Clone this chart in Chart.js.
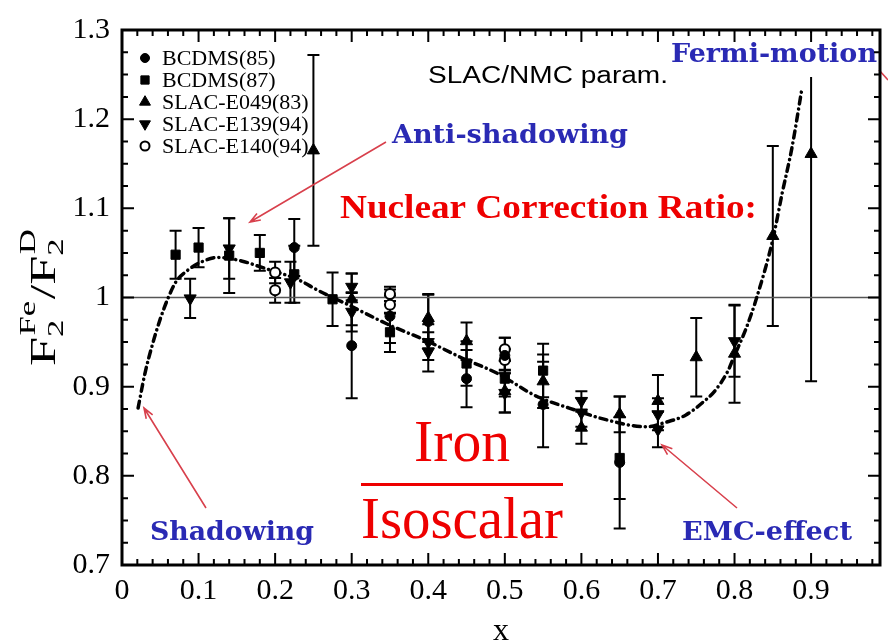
<!DOCTYPE html>
<html>
<head>
<meta charset="utf-8">
<script src="https://cdn.jsdelivr.net/npm/chart.js@4.4.1/dist/chart.umd.min.js"></script>
<style>
  html, body { margin: 0; padding: 0; background: #fff; }
</style>
</head>
<body>
<canvas id="c" width="888" height="641"></canvas>
<script>
// axis ticks
const xTicks = [0, 0.1, 0.2, 0.3, 0.4, 0.5, 0.6, 0.7, 0.8, 0.9];
const xTickLabels = ['0', '0.1', '0.2', '0.3', '0.4', '0.5', '0.6', '0.7', '0.8', '0.9'];
const yTicks = [0.7, 0.8, 0.9, 1.0, 1.1, 1.2, 1.3];
const yTickLabels = ['0.7', '0.8', '0.9', '1', '1.1', '1.2', '1.3'];

// BCDMS(85)
const b85X = [0.225, 0.30, 0.35, 0.40, 0.45, 0.50, 0.55, 0.65];
const b85Y = [1.056, 0.946, 0.979, 0.973, 0.909, 0.935, 0.880, 0.815];
const b85Err = [0.032, 0.059, 0.030, 0.030, 0.032, 0.020, 0.048, 0.074];

// BCDMS(87)
const b87X = [0.07, 0.10, 0.14, 0.18, 0.225, 0.275, 0.35, 0.45, 0.50, 0.55, 0.65];
const b87Y = [1.048, 1.056, 1.047, 1.050, 1.026, 0.998, 0.961, 0.926, 0.909, 0.918, 0.820];
const b87Err = [0.027, 0.022, 0.042, 0.020, 0.032, 0.030, 0.022, 0.025, 0.020, 0.030, 0.046];

// SLAC-E049(83)
const e049X = [0.25, 0.30, 0.40, 0.45, 0.50, 0.55, 0.60, 0.65, 0.70, 0.75, 0.80, 0.85, 0.90];
const e049Y = [1.165, 0.998, 0.977, 0.951, 0.895, 0.906, 0.854, 0.869, 0.884, 0.933, 0.937, 1.069, 1.161];
const e049Err = [0.107, 0.029, 0.027, 0.021, 0.024, 0.030, 0.018, 0.020, 0.029, 0.044, 0.055, 0.101, 0.255];

// SLAC-E139(94)
const e139X = [0.089, 0.14, 0.22, 0.30, 0.30, 0.40, 0.40, 0.50, 0.60, 0.60, 0.70, 0.70, 0.80];
const e139Y = [0.999, 1.055, 1.017, 1.012, 0.984, 0.950, 0.939, 0.893, 0.884, 0.871, 0.869, 0.852, 0.951];
const e139Err = [0.022, 0.034, 0.023, 0.015, 0.022, 0.020, 0.022, 0.022, 0.011, 0.016, 0.018, 0.020, 0.040];

// SLAC-E140(94)
const e140X = [0.20, 0.20, 0.35, 0.35, 0.50, 0.50];
const e140Y = [1.028, 1.008, 1.004, 0.992, 0.942, 0.930];
const e140Err = [0.012, 0.014, 0.008, 0.010, 0.013, 0.012];

// SLAC/NMC parametrisation curve
const paramX = [0.021, 0.03, 0.04, 0.05, 0.06, 0.07, 0.085, 0.104, 0.126, 0.156, 0.182, 0.23, 0.256, 0.295,
  0.347, 0.399, 0.442, 0.49, 0.542, 0.584, 0.632, 0.684, 0.71, 0.736, 0.758, 0.775, 0.791, 0.80, 0.815, 0.829,
  0.85, 0.862, 0.875, 0.888];
const paramY = [0.876, 0.915, 0.948, 0.976, 0.999, 1.017, 1.030, 1.040, 1.045, 1.041, 1.034, 1.02, 1.008, 0.992,
  0.970, 0.951, 0.933, 0.915, 0.889, 0.876, 0.863, 0.855, 0.86, 0.868, 0.882, 0.896, 0.917, 0.935, 0.965, 1.0,
  1.065, 1.116, 1.168, 1.234];

// unity reference line
const refX = [0, 0.99];
const refY = [1, 1];

const BLUE = '#2a2ab4';
const RED = '#ee0000';
const ARROW = '#d8404c';

function pts(xs, ys) {
  return xs.map((x, i) => ({ x: x, y: ys[i] }));
}

function markerSet(label, xs, ys, err, style, extra) {
  return Object.assign({
    label: label,
    data: pts(xs, ys),
    err: err,
    pointStyle: style,
    pointRadius: 5,
    backgroundColor: '#000',
    borderColor: '#000',
    borderWidth: 1,
    order: 0
  }, extra || {});
}

const datasets = [
  markerSet('BCDMS(85)', b85X, b85Y, b85Err, 'circle'),
  markerSet('BCDMS(87)', b87X, b87Y, b87Err, 'rect', { pointRadius: 6.5 }),
  markerSet('SLAC-E049(83)', e049X, e049Y, e049Err, 'triangle', { pointRadius: 7 }),
  markerSet('SLAC-E139(94)', e139X, e139Y, e139Err, 'triangle', { pointRadius: 7, pointRotation: 180 }),
  markerSet('SLAC-E140(94)', e140X, e140Y, e140Err, 'circle', { backgroundColor: '#fff', borderWidth: 2 }),
  {
    type: 'line', label: 'SLAC/NMC param.', data: pts(paramX, paramY),
    borderColor: '#000', borderWidth: 3.5, borderDash: [7, 5, 0.1, 5], borderCapStyle: 'round',
    pointRadius: 0, cubicInterpolationMode: 'monotone', fill: false, order: 5
  },
  {
    type: 'line', label: 'ref', data: pts(refX, refY),
    borderColor: '#555', borderWidth: 1.5, pointRadius: 0, fill: false, order: 6
  }
];

function fitText(ctx, str, left, cy, width, font, color) {
  ctx.save();
  ctx.font = font;
  ctx.fillStyle = color;
  ctx.textBaseline = 'middle';
  ctx.textAlign = 'left';
  const w = ctx.measureText(str).width;
  ctx.translate(left, cy);
  ctx.scale(width / w, 1);
  ctx.fillText(str, 0, 0);
  ctx.restore();
}

function arrow(ctx, x0, y0, x1, y1) {
  const ang = Math.atan2(y1 - y0, x1 - x0);
  ctx.save();
  ctx.strokeStyle = ARROW;
  ctx.lineWidth = 1.6;
  ctx.beginPath();
  ctx.moveTo(x0, y0);
  ctx.lineTo(x1, y1);
  ctx.moveTo(x1 - 11 * Math.cos(ang - 0.35), y1 - 11 * Math.sin(ang - 0.35));
  ctx.lineTo(x1, y1);
  ctx.lineTo(x1 - 11 * Math.cos(ang + 0.35), y1 - 11 * Math.sin(ang + 0.35));
  ctx.stroke();
  ctx.restore();
}

function drawYTitle(ctx) {
  const big = '36px Liberation Serif';
  const small = '24px Liberation Serif';
  ctx.save();
  ctx.fillStyle = '#000';
  ctx.textBaseline = 'alphabetic';
  ctx.translate(55, 366);
  ctx.rotate(-Math.PI / 2);
  ctx.scale(1.45, 1);
  let x = 0;
  const seq = [['F', '2', 'Fe'], ['/F', '2', 'D']];
  seq.forEach(s => {
    ctx.font = big;
    ctx.fillText(s[0], x, 0);
    x += ctx.measureText(s[0]).width;
    ctx.font = small;
    ctx.fillText(s[1], x, 8);
    ctx.fillText(s[2], x + 1, -20);
    x += Math.max(ctx.measureText(s[1]).width, ctx.measureText(s[2]).width + 1) + 1;
  });
  ctx.restore();
}

const decorations = {
  id: 'decorations',
  beforeDatasetsDraw(chart) {
    const { ctx, chartArea: a, scales: { x, y } } = chart;
    ctx.save();
    ctx.beginPath();
    ctx.rect(a.left, a.top, a.right - a.left, a.bottom - a.top);
    ctx.clip();
    ctx.strokeStyle = '#000';
    ctx.lineWidth = 2;
    chart.data.datasets.forEach(ds => {
      if (!ds.err) return;
      ds.data.forEach((p, i) => {
        const px = x.getPixelForValue(p.x);
        const hi = y.getPixelForValue(p.y + ds.err[i]);
        const lo = y.getPixelForValue(p.y - ds.err[i]);
        ctx.beginPath();
        ctx.moveTo(px, hi); ctx.lineTo(px, lo);
        ctx.moveTo(px - 6, hi); ctx.lineTo(px + 6, hi);
        ctx.moveTo(px - 6, lo); ctx.lineTo(px + 6, lo);
        ctx.stroke();
      });
    });
    ctx.restore();
  },
  afterDraw(chart) {
    const { ctx, chartArea: a, scales: { x, y } } = chart;

    // white box behind the Fermi-motion label
    ctx.fillStyle = '#fff';
    ctx.fillRect(667, 33, 214, 44);

    // labels
    fitText(ctx, 'SLAC/NMC param.', 428, 77, 240, '23px Liberation Sans', '#000');
    fitText(ctx, 'Anti-shadowing', 392, 136, 236, 'bold 26px DejaVu Serif', BLUE);
    fitText(ctx, 'Fermi-motion', 671, 55, 206, 'bold 26px DejaVu Serif', BLUE);
    fitText(ctx, 'Shadowing', 150, 533, 164, 'bold 26px DejaVu Serif', BLUE);
    fitText(ctx, 'EMC-effect', 682, 533, 170, 'bold 26px DejaVu Serif', BLUE);
    fitText(ctx, 'Nuclear Correction Ratio:', 340, 209, 417, 'bold 34px Liberation Serif', RED);
    fitText(ctx, 'Iron', 414, 445, 96, '60px Liberation Serif', RED);
    fitText(ctx, 'Isoscalar', 361, 522, 202, '60px Liberation Serif', RED);
    ctx.fillStyle = RED;
    ctx.fillRect(361, 483, 202, 3);

    // arrows
    arrow(ctx, 386, 142, 250, 222);
    arrow(ctx, 206, 508, 144, 408);
    arrow(ctx, 737, 508, 662, 445);
    ctx.save();
    ctx.strokeStyle = ARROW;
    ctx.lineWidth = 1.6;
    ctx.beginPath();
    ctx.moveTo(879, 70); ctx.lineTo(888, 80);
    ctx.stroke();
    ctx.restore();

    // legend
    const rows = [58, 80, 102, 124, 146];
    chart.data.datasets.slice(0, 5).forEach((ds, i) => {
      ctx.save();
      ctx.fillStyle = ds.backgroundColor;
      ctx.strokeStyle = ds.borderColor;
      ctx.lineWidth = ds.borderWidth;
      Chart.helpers.drawPoint(ctx, {
        pointStyle: ds.pointStyle, rotation: ds.pointRotation || 0,
        radius: ds.pointRadius * 0.9, borderWidth: ds.borderWidth
      }, 145, rows[i]);
      ctx.restore();
      ctx.fillStyle = '#000';
      ctx.font = '22px Liberation Serif';
      ctx.textBaseline = 'middle';
      ctx.textAlign = 'left';
      ctx.fillText(ds.label, 162, rows[i] + 1);
    });

    // frame
    ctx.save();
    ctx.strokeStyle = '#000';
    ctx.lineWidth = 3;
    ctx.strokeRect(a.left, a.top, a.right - a.left, a.bottom - a.top);

    // inward ticks
    ctx.lineWidth = 2;
    ctx.beginPath();
    for (let k = 0; k * 0.02 <= x.max + 1e-9; k++) {
      const px = x.getPixelForValue(k * 0.02);
      const len = k % 5 === 0 ? 12 : 6;
      ctx.moveTo(px, a.bottom); ctx.lineTo(px, a.bottom - len);
      ctx.moveTo(px, a.top); ctx.lineTo(px, a.top + len);
    }
    for (let k = 0; k <= 24; k++) {
      const py = y.getPixelForValue(0.7 + k * 0.025);
      const len = k % 4 === 0 ? 12 : 6;
      ctx.moveTo(a.left, py); ctx.lineTo(a.left + len, py);
      ctx.moveTo(a.right, py); ctx.lineTo(a.right - len, py);
    }
    ctx.stroke();
    ctx.restore();

    drawYTitle(ctx);
  }
};

const tickFont = { family: 'Liberation Serif', size: 30 };

new Chart(document.getElementById('c'), {
  type: 'scatter',
  data: { datasets: datasets },
  options: {
    responsive: false,
    animation: false,
    layout: { padding: { top: 20, right: 3, left: 0, bottom: 0 } },
    plugins: { legend: { display: false }, tooltip: { enabled: false } },
    scales: {
      x: {
        type: 'linear', min: 0, max: 0.99,
        afterBuildTicks: s => { s.ticks = xTicks.map(v => ({ value: v })); },
        afterFit: s => { s.height = 76; },
        grid: { display: false, drawTicks: false },
        border: { display: false },
        ticks: {
          callback: v => xTickLabels[xTicks.indexOf(v)],
          font: tickFont, color: '#000', padding: 8, maxRotation: 0, autoSkip: false
        },
        title: {
          display: true, text: 'x', color: '#000', padding: 0,
          font: { family: 'Liberation Serif', size: 32, lineHeight: 0.6 }
        }
      },
      y: {
        type: 'linear', min: 0.7, max: 1.3,
        afterBuildTicks: s => { s.ticks = yTicks.map(v => ({ value: v })); },
        afterFit: s => { s.width = 122; },
        grid: { display: false, drawTicks: false },
        border: { display: false },
        ticks: {
          callback: v => yTickLabels[yTicks.indexOf(v)],
          font: tickFont, color: '#000', padding: 12, autoSkip: false
        }
      }
    }
  },
  plugins: [decorations]
});
</script>
</body>
</html>
